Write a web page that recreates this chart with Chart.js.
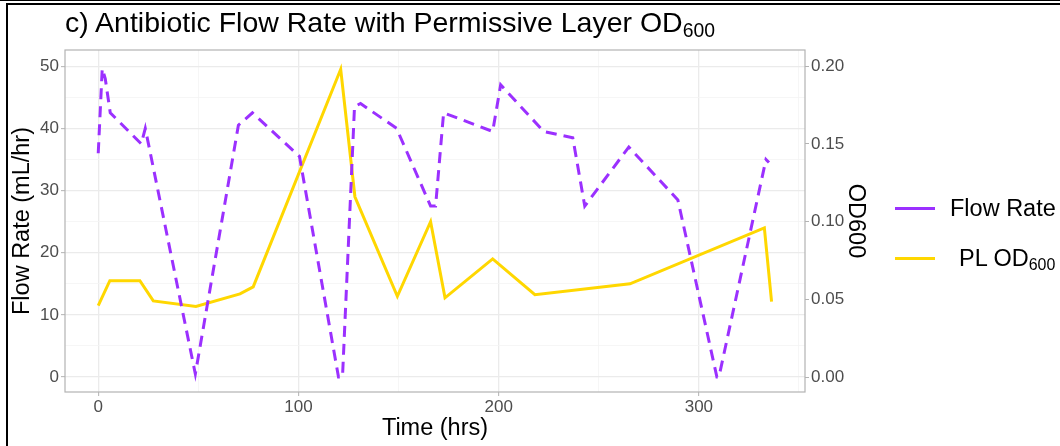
<!DOCTYPE html>
<html lang="en">
<head>
<meta charset="UTF-8" />
<title>Antibiotic Flow Rate with Permissive Layer OD600</title>
<script src="https://cdn.jsdelivr.net/npm/chart.js"></script>
<style>
  body { margin: 0; background: #fff; font-family: "Liberation Sans", Arial, sans-serif; }
  #wrap { position: relative; width: 1060px; height: 446px; overflow: hidden; background: #fff; }
  #topline { position: absolute; left: 0; top: 0; width: 1060px; height: 1px; background: #000; }
  #frame { position: absolute; left: 6px; top: 3px; width: 1070px; height: 460px; border-top: 2px solid #000; border-left: 2px solid #000; }
  #chart { position: absolute; left: 0; top: 0; }
  #title { position: absolute; left: 65px; top: 8px; font-size: 28.5px; line-height: 28px; color: #000; white-space: nowrap; }
  sub { font-size: 0.68em; vertical-align: -0.28em; line-height: 0; }
  .key { position: absolute; left: 895px; width: 40px; height: 3px; }
  .lab { position: absolute; font-size: 23.5px; line-height: 23.5px; color: #000; white-space: nowrap; }
</style>
</head>
<body>
<div id="wrap">
  <canvas id="chart" width="1060" height="446"></canvas>
  <div id="topline"></div>
  <div id="frame"></div>
  <div id="title">c) Antibiotic Flow Rate with Permissive Layer OD<sub>600</sub></div>
  <div class="key" style="top:207px; background:#9B30FF"></div>
  <div class="lab" style="left:950px; top:197px">Flow Rate</div>
  <div class="key" style="top:257px; background:#FFD700"></div>
  <div class="lab" style="left:959px; top:247px">PL OD<sub>600</sub></div>
</div>

<script>
    // flow rate (mL/hr) vs time (hrs)
    const flowHours = [0, 2, 3.5, 6, 21.5, 23.5, 48.5, 70, 77, 100.5, 120, 122, 128, 131, 149, 166, 168.5, 172.5, 197, 201, 222.5, 237, 243, 265, 289.5, 309, 310, 333.5, 335];
    const flowRate = [36, 49.6, 48, 42.5, 37.5, 40, 0.5, 40.5, 42.5, 35.5, 0, 0, 43.5, 44, 40, 27.5, 27.5, 42.5, 39.5, 47, 39.5, 38.5, 27.5, 37, 28.5, 0, 0, 35, 34.5];

    // permissive layer OD600 vs time (hrs)
    const odHours = [0, 5.8, 20.8, 27.5, 48.8, 70.8, 77.4, 121.1, 128.2, 149.4, 166, 173.2, 197, 218.1, 265.6, 332.7, 336.3];
    const odValues = [0.046, 0.062, 0.062, 0.049, 0.0454, 0.0535, 0.058, 0.198, 0.116, 0.052, 0.100, 0.051, 0.076, 0.053, 0.060, 0.096, 0.0486];

    const xMajorTicks = [0, 100, 200, 300];
    const xMinorTicks = [50, 150, 250, 350];
    const yMajorTicks = [0, 10, 20, 30, 40, 50];
    const yMinorTicks = [5, 15, 25, 35, 45];
    const odTicks = [0, 0.05, 0.10, 0.15, 0.20];

    const yMin = -2.4, yMax = 52.6;
    const odPerFlow = 1 / 250;

    const tickFont = { family: 'Liberation Sans', size: 17 };
    const titleFont = { family: 'Liberation Sans', size: 23.5 };

    function withTicks(list) {
        return (scale) => {
            scale.ticks = list.slice().sort((a, b) => a - b).map(v => ({ value: v }));
        };
    }

    const panelBorder = {
        id: 'panelBorder',
        afterDraw(chart) {
            const { ctx, chartArea: a } = chart;
            ctx.save();
            ctx.strokeStyle = '#B3B3B3';
            ctx.lineWidth = 1.2;
            ctx.strokeRect(a.left, a.top, a.right - a.left, a.bottom - a.top);
            ctx.restore();
        }
    };

    const ctx = document.getElementById('chart').getContext('2d');
    new Chart(ctx, {
        type: 'line',
        data: {
            datasets: [{
                label: 'Flow Rate',
                data: flowHours.map((h, i) => ({ x: h, y: flowRate[i] })),
                yAxisID: 'y',
                borderColor: '#9B30FF',
                borderWidth: 3,
                borderDash: [11, 7],
                pointRadius: 0,
                tension: 0,
                fill: false
            }, {
                label: 'PL OD600',
                data: odHours.map((h, i) => ({ x: h, y: odValues[i] })),
                yAxisID: 'y2',
                borderColor: '#FFD700',
                borderWidth: 3,
                pointRadius: 0,
                tension: 0,
                fill: false
            }]
        },
        options: {
            responsive: false,
            animation: false,
            devicePixelRatio: 1,
            layout: { padding: { left: 8, right: 190, top: 50, bottom: 3 } },
            plugins: { legend: { display: false }, tooltip: { enabled: false } },
            scales: {
                x: {
                    type: 'linear',
                    min: -16.6,
                    max: 353,
                    afterBuildTicks: withTicks(xMajorTicks.concat(xMinorTicks)),
                    afterFit: (s) => { s.height = 51; },
                    border: { display: false },
                    grid: {
                        color: (c) => xMajorTicks.includes(c.tick.value) ? '#EBEBEB' : '#F4F4F4',
                        lineWidth: (c) => xMajorTicks.includes(c.tick.value) ? 1.3 : 0.8,
                        tickColor: (c) => xMajorTicks.includes(c.tick.value) ? '#B3B3B3' : 'rgba(0,0,0,0)',
                        tickWidth: 1,
                        tickLength: 4
                    },
                    ticks: {
                        autoSkip: false,
                        maxRotation: 0,
                        padding: 1,
                        color: '#4D4D4D',
                        font: tickFont,
                        callback: (v) => xMajorTicks.includes(v) ? String(v) : ''
                    },
                    title: { display: true, text: 'Time (hrs)', color: '#000', font: titleFont, padding: 0 }
                },
                y: {
                    position: 'left',
                    min: yMin,
                    max: yMax,
                    afterBuildTicks: withTicks(yMajorTicks.concat(yMinorTicks)),
                    afterFit: (s) => { s.width = 57; },
                    border: { display: false },
                    grid: {
                        color: (c) => yMajorTicks.includes(c.tick.value) ? '#EBEBEB' : '#F4F4F4',
                        lineWidth: (c) => yMajorTicks.includes(c.tick.value) ? 1.3 : 0.8,
                        tickColor: (c) => yMajorTicks.includes(c.tick.value) ? '#B3B3B3' : 'rgba(0,0,0,0)',
                        tickWidth: 1,
                        tickLength: 4
                    },
                    ticks: {
                        autoSkip: false,
                        padding: 2,
                        color: '#4D4D4D',
                        font: tickFont,
                        callback: (v) => yMajorTicks.includes(v) ? String(v) : ''
                    },
                    title: { display: true, text: 'Flow Rate (mL/hr)', color: '#000', font: titleFont, padding: 0 }
                },
                y2: {
                    position: 'right',
                    min: yMin * odPerFlow,
                    max: yMax * odPerFlow,
                    afterBuildTicks: withTicks(odTicks),
                    afterFit: (s) => { s.width = 65; },
                    border: { display: false },
                    grid: {
                        drawOnChartArea: false,
                        tickColor: '#B3B3B3',
                        tickWidth: 1,
                        tickLength: 4
                    },
                    ticks: {
                        autoSkip: false,
                        padding: 2,
                        color: '#4D4D4D',
                        font: tickFont,
                        callback: (v) => v.toFixed(2)
                    },
                    title: { display: true, text: 'OD600', color: '#000', font: titleFont, padding: 0 }
                }
            }
        },
        plugins: [panelBorder]
    });
</script>
</body>
</html>
